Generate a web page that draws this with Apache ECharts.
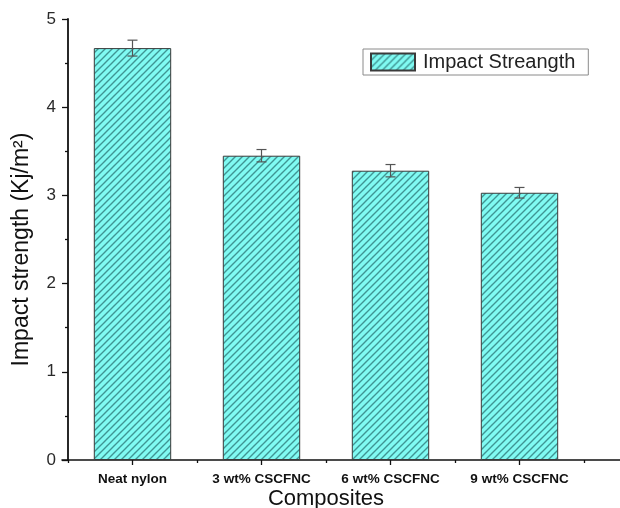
<!DOCTYPE html>
<html>
<head>
<meta charset="utf-8">
<script src="https://cdn.jsdelivr.net/npm/echarts@6/dist/echarts.min.js"></script>
<style>
  html, body { margin: 0; padding: 0; background: #fff; }
  #chart { width: 620px; height: 508px; }
</style>
</head>
<body>
<div id="chart"></div>
<script>
// Impact strength of neat nylon and CSCFNC composites
const categories = ['Neat nylon', '3 wt% CSCFNC', '6 wt% CSCFNC', '9 wt% CSCFNC'];
const strength = [4.67, 3.45, 3.28, 3.03];
const strengthErr = [0.09, 0.07, 0.07, 0.06];
const yTicks = [0, 1, 2, 3, 4, 5];

// diagonal hatch fill for the bars
function hatchPattern() {
  const s = 7;
  const c = document.createElement('canvas');
  c.width = s; c.height = s;
  const g = c.getContext('2d');
  g.fillStyle = '#80faf2';
  g.fillRect(0, 0, s, s);
  g.strokeStyle = '#3f9593';
  g.lineWidth = 1.4;
  g.beginPath();
  g.moveTo(-1, s + 1); g.lineTo(s + 1, -1);
  g.moveTo(-1, 1); g.lineTo(1, -1);
  g.moveTo(s - 1, s + 1); g.lineTo(s + 1, s - 1);
  g.stroke();
  return { image: c, repeat: 'repeat' };
}
const hatch = hatchPattern();

const chart = echarts.init(document.getElementById('chart'), null, { renderer: 'canvas' });
const font = 'Arial, "Liberation Sans", Helvetica, sans-serif';

chart.setOption({
  animation: false,
  backgroundColor: '#fff',
  textStyle: { fontFamily: font },
  grid: [
    { left: 68, right: 36, top: 19, bottom: 48, outerBoundsMode: 'none', containLabel: false },
    { left: 62, right: 0, top: 19, bottom: 48, outerBoundsMode: 'none', containLabel: false }
  ],
  legend: {
    data: ['Impact Streangth'],
    left: 363, top: 49,
    padding: [3, 13, 3, 7],
    itemWidth: 44, itemHeight: 17, itemGap: 6,
    icon: 'rect',
    borderColor: '#8a8a8a', borderWidth: 1,
    textStyle: { fontSize: 20, color: '#222', fontFamily: font, padding: [0, 0, 0, 3] },
    selectedMode: false
  },
  xAxis: [
    {
      type: 'category', data: categories, gridIndex: 0,
      name: 'Composites', nameLocation: 'middle', nameGap: 28, nameMoveOverlap: false,
      nameTextStyle: { fontSize: 22, color: '#111', fontFamily: font },
      axisLine: { show: false },
      axisTick: { show: true, alignWithLabel: true, length: 5, lineStyle: { color: '#111', width: 1.3 } },
      axisLabel: { fontSize: 13.5, fontWeight: 'bold', color: '#111', margin: 12, fontFamily: font }
    },
    {
      type: 'category', data: categories, gridIndex: 0, position: 'bottom',
      axisLine: { show: false },
      axisTick: { show: true, alignWithLabel: false, length: 3, lineStyle: { color: '#111', width: 1.3 } },
      axisLabel: { show: false }
    },
    {
      type: 'value', gridIndex: 1, min: 0, max: 1,
      axisLine: { show: true, lineStyle: { color: '#111', width: 1.6 } },
      axisTick: { show: false }, axisLabel: { show: false }, splitLine: { show: false }
    }
  ],
  yAxis: [
    {
      type: 'value', gridIndex: 0,
      min: yTicks[0], max: yTicks[yTicks.length - 1], interval: 1,
      name: 'Impact strength (Kj/m²)', nameLocation: 'middle', nameGap: 35,
      nameTextStyle: { fontSize: 23, color: '#111', fontFamily: font, padding: [0, 20, 0, 0] },
      axisLine: { show: true, lineStyle: { color: '#111', width: 1.8 } },
      axisTick: { show: true, length: 6, lineStyle: { color: '#111', width: 1.3 } },
      minorTick: { show: true, splitNumber: 2, length: 3, lineStyle: { color: '#111', width: 1.3 } },
      axisLabel: { fontSize: 17, color: '#2a2a2a', margin: 12, fontFamily: font },
      splitLine: { show: false }
    },
    {
      type: 'value', gridIndex: 1, min: 0, max: 1, show: false
    }
  ],
  series: [
    {
      name: 'Impact Streangth',
      type: 'bar',
      xAxisIndex: 0, yAxisIndex: 0,
      data: strength,
      barWidth: '60%',
      itemStyle: { color: hatch, borderColor: '#3a3a3a', borderWidth: 1 }
    },
    {
      name: 'error',
      type: 'custom',
      xAxisIndex: 0, yAxisIndex: 0,
      data: strength.map((v, i) => [i, v - strengthErr[i], v + strengthErr[i]]),
      renderItem: function (params, api) {
        const lo = api.coord([api.value(0), api.value(1)]);
        const hi = api.coord([api.value(0), api.value(2)]);
        const half = 5;
        const st = { stroke: '#555', lineWidth: 1.2, fill: null };
        return {
          type: 'group',
          children: [
            { type: 'line', shape: { x1: hi[0], y1: hi[1], x2: lo[0], y2: lo[1] }, style: st },
            { type: 'line', shape: { x1: hi[0] - half, y1: hi[1], x2: hi[0] + half, y2: hi[1] }, style: st },
            { type: 'line', shape: { x1: lo[0] - half, y1: lo[1], x2: lo[0] + half, y2: lo[1] }, style: st }
          ]
        };
      },
      z: 5
    }
  ]
});
</script>
</body>
</html>
